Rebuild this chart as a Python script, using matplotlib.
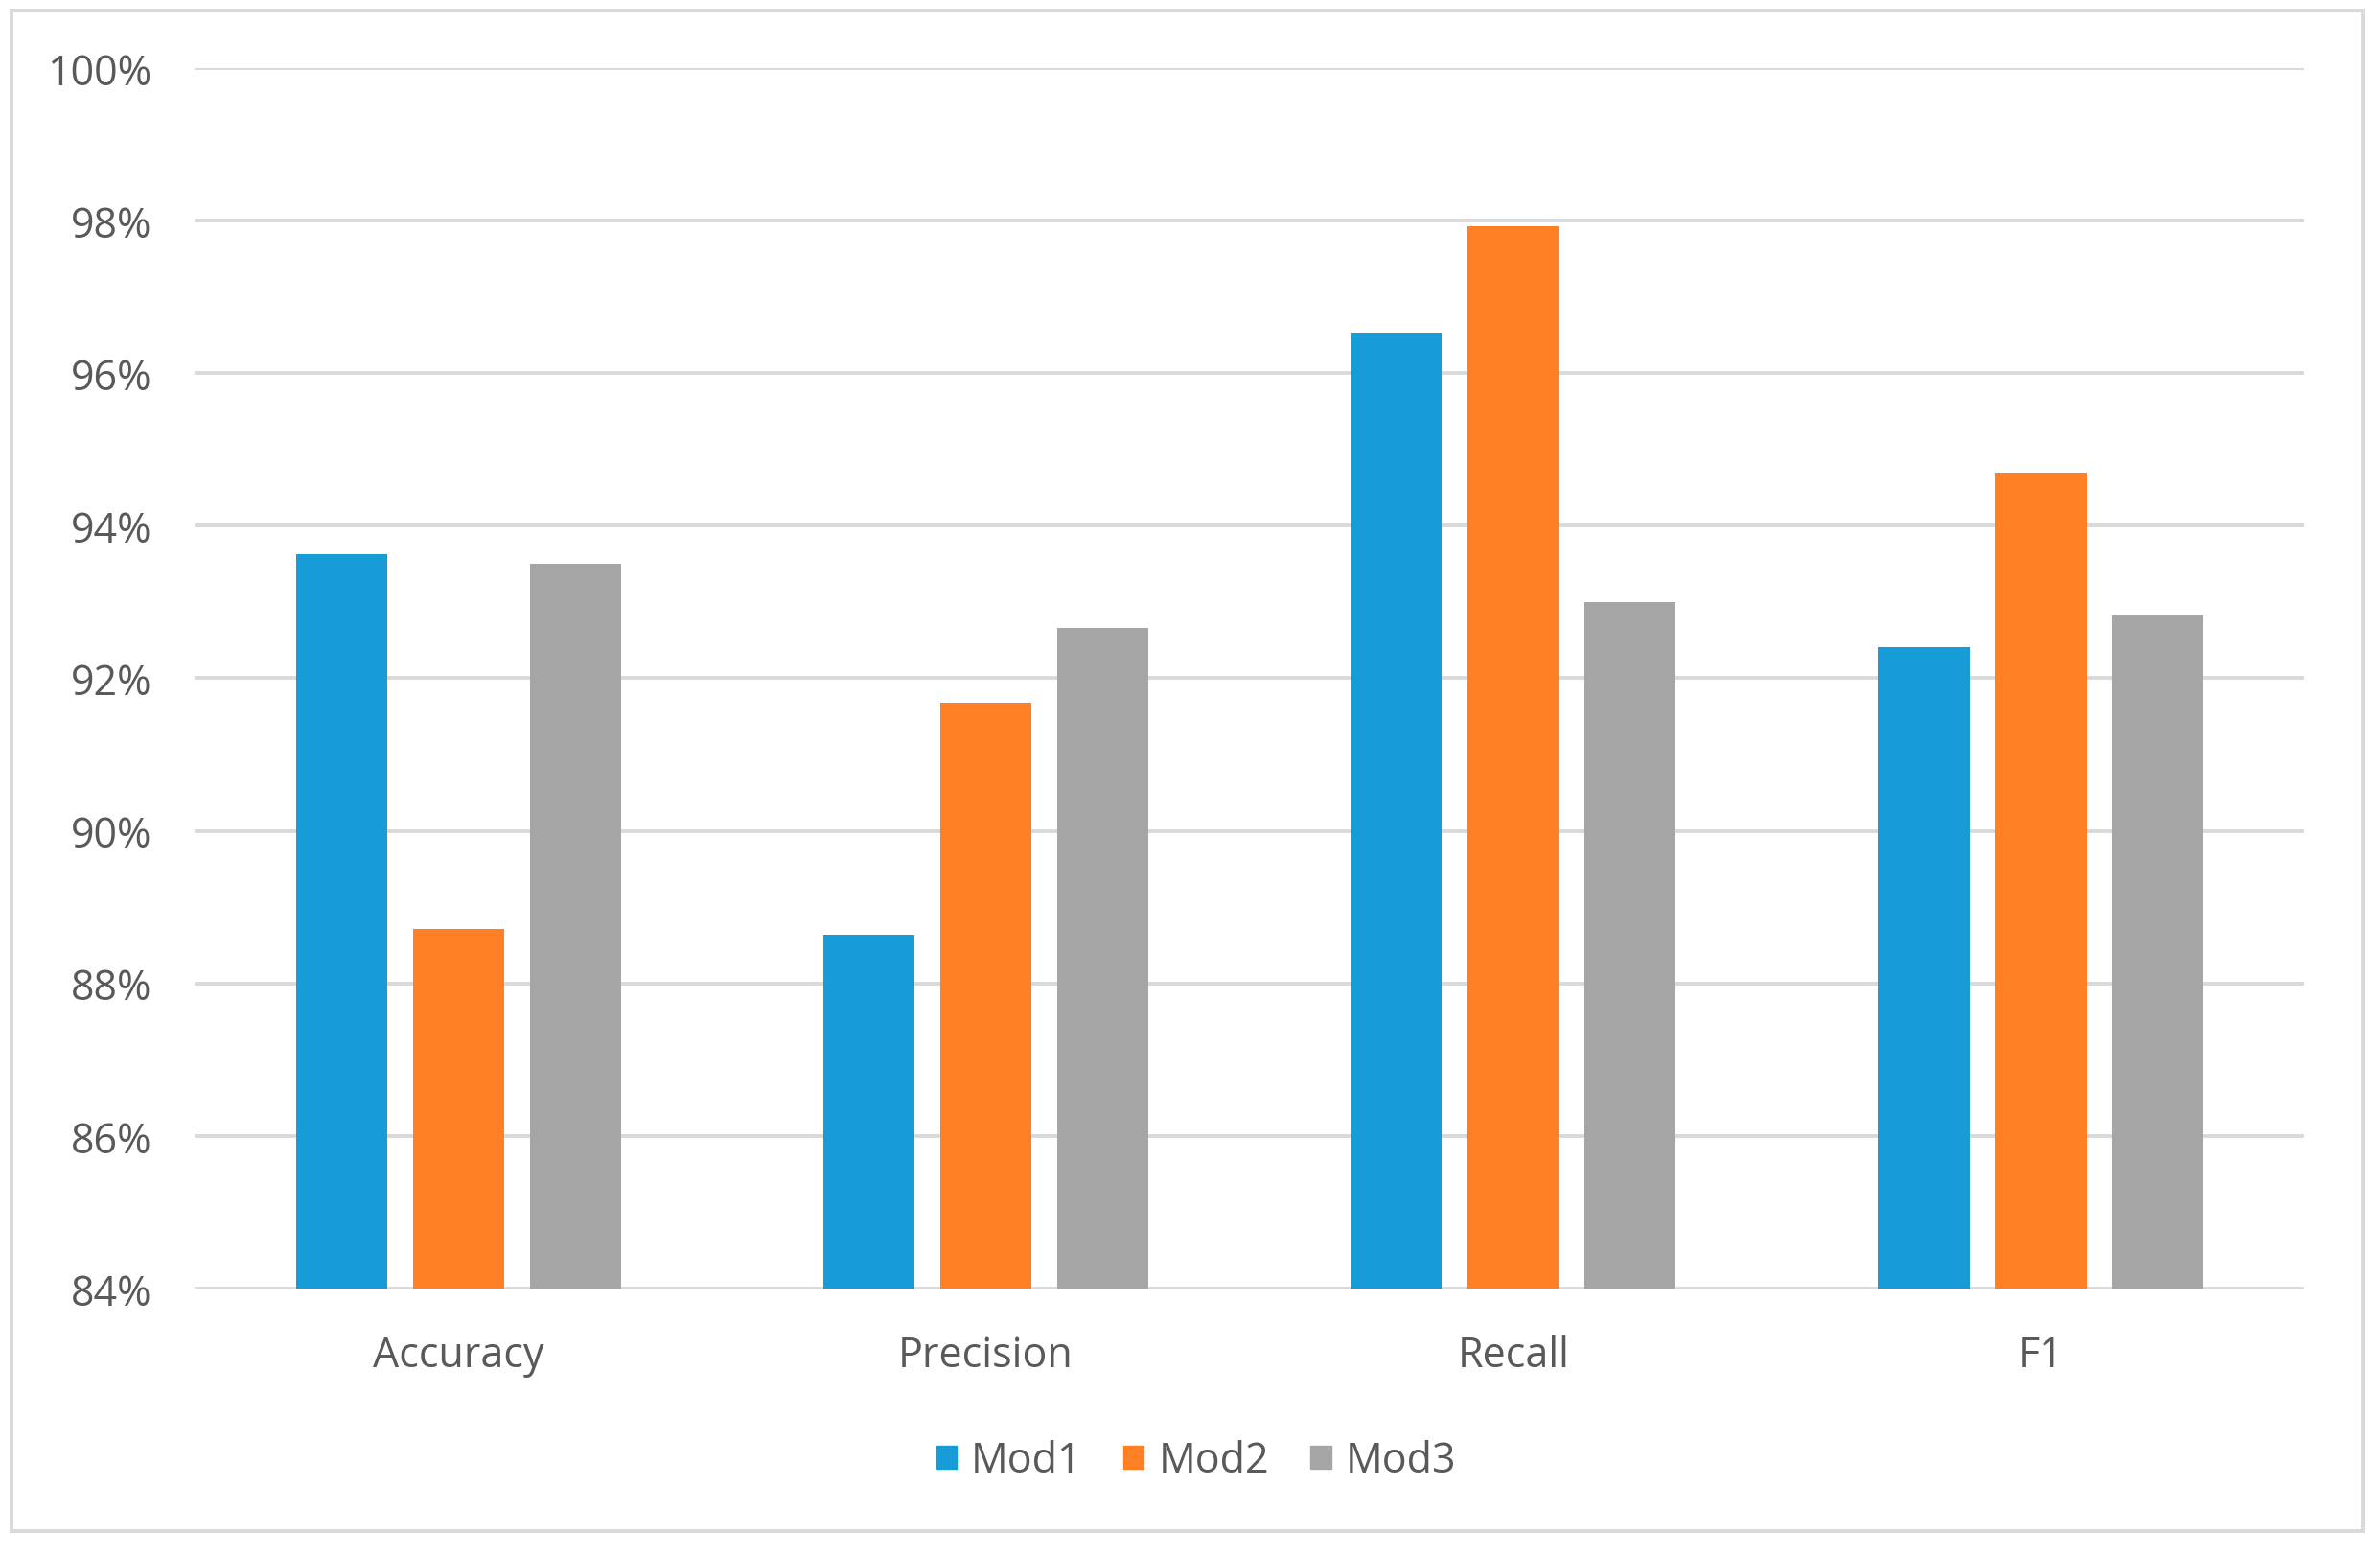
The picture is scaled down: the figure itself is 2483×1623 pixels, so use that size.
import matplotlib.pyplot as plt
import numpy as np
from matplotlib.patches import Patch, Rectangle
from matplotlib.ticker import FuncFormatter

# Data
categories = ["Accuracy", "Precision", "Recall", "F1"]
mod1 = [93.63, 88.64, 96.53, 92.41]
mod2 = [88.71, 91.68, 97.93, 94.69]
mod3 = [93.50, 92.66, 93.00, 92.82]
series_names = ["Mod1", "Mod2", "Mod3"]
colors = ["#189CD7", "#FF7F24", "#A5A5A5"]
yticks = [84, 86, 88, 90, 92, 94, 96, 98, 100]

plt.rcParams['font.family'] = ['Open Sans', 'DejaVu Sans']

fig = plt.figure(figsize=(24.83, 16.24), dpi=100)
ax = fig.add_axes([0.0818, 0.1718, 0.8864, 0.7839])

x = np.arange(len(categories))
width = 0.173
step = 0.2216
for i, (vals, c) in enumerate(zip([mod1, mod2, mod3], colors)):
    ax.bar(x + (i - 1) * step, np.array(vals) - 84, width, bottom=84,
           color=c, zorder=3)

ax.set_xlim(-0.5, len(categories) - 0.5)
ax.set_ylim(84, 100)
ax.set_yticks(yticks)
ax.yaxis.set_major_formatter(FuncFormatter(lambda v, p: f"{v:.0f}%"))
ax.set_xticks(x)
ax.set_xticklabels(categories)
ax.grid(axis='y', color='#D9D9D9', linewidth=2.8, zorder=0)
ax.tick_params(axis='both', length=0, labelsize=31, labelcolor='#595959')
ax.tick_params(axis='y', pad=32)
ax.tick_params(axis='x', pad=34)
for s in ax.spines.values():
    s.set_visible(False)

# outer chart border
fig.patches.append(Rectangle((0.0048, 0.016), 0.9879, 0.9766,
                             transform=fig.transFigure, fill=False,
                             edgecolor='#D9D9D9', linewidth=2.8))

handles = [Patch(color=c) for c in colors]
fig.legend(handles, series_names, loc='center', bbox_to_anchor=(0.5026, 0.061),
           ncol=3, frameon=False, fontsize=31, labelcolor='#595959',
           handlelength=0.5, handleheight=0.5, handletextpad=0.35,
           columnspacing=1.0)

fig.savefig("out.png", dpi=100, facecolor='white')
